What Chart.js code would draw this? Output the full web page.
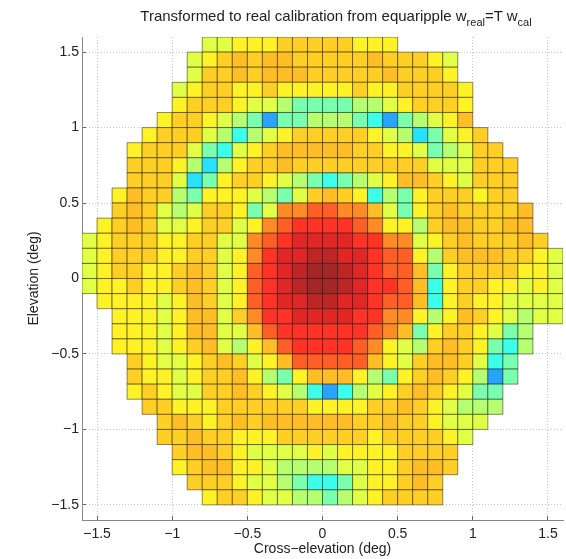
<!DOCTYPE html>
<html>
<head>
<meta charset="utf-8">
<script src="https://cdn.jsdelivr.net/npm/chart.js@4.4.0/dist/chart.umd.min.js"></script>
<style>
body{margin:0;background:#fff}
#wrap{position:relative;width:566px;height:559px}
#title{position:absolute;top:7px;left:336px;transform:translateX(-50%);white-space:nowrap;font:15px "Liberation Sans",Arial,sans-serif;line-height:17px;color:#222}
#title sub{font-size:11px;vertical-align:-5px;line-height:0}
</style>
</head>
<body>
<div id="wrap">
<canvas id="beam" width="566" height="559"></canvas>
<div id="title">Transformed to real calibration from equaripple w<sub>real</sub>=T w<sub>cal</sub></div>
</div>
<script>
// cell centres (deg)
const crossElev=[-1.55,-1.45,-1.35,-1.25,-1.15,-1.05,-0.95,-0.85,-0.75,-0.65,-0.55,-0.45,-0.35,-0.25,-0.15,-0.05,
  0.05,0.15,0.25,0.35,0.45,0.55,0.65,0.75,0.85,0.95,1.05,1.15,1.25,1.35,1.45,1.55]
const elevation=[1.55,1.45,1.35,1.25,1.15,1.05,0.95,0.85,0.75,0.65,0.55,0.45,0.35,0.25,0.15,0.05,
  -0.05,-0.15,-0.25,-0.35,-0.45,-0.55,-0.65,-0.75,-0.85,-0.95,-1.05,-1.15,-1.25,-1.35,-1.45]
// first filled column of each row
const rowStart=[8,7,7,6,6,5,4,3,3,3,2,2,1,0,0,0,0,1,2,2,2,3,3,3,4,5,5,6,6,7,8]
// colour level per cell (0..100 on the jet scale), row by row from the top
const level=[
[59,59,64,64,64,68,68,68,68,68,64,64,64],
[59,64,68,70,68,70,70,68,68,68,68,68,70,68,68,68,64,59],
[59,68,68,70,68,70,70,70,68,68,68,68,68,70,68,68,68,64],
[59,64,68,68,64,64,68,64,64,64,64,64,68,64,64,68,68,68,68,64],
[64,68,68,68,64,59,59,54,47,47,47,47,54,54,59,64,68,68,68,64],
[64,68,68,64,59,54,47,27,47,47,54,54,54,47,40,27,47,54,59,64,70],
[64,68,68,68,59,54,40,54,59,64,68,68,68,68,68,64,59,54,34,47,59,64,68],
[64,68,68,68,59,47,40,59,64,68,70,70,70,70,70,68,68,64,64,59,47,54,59,68,68],
[68,68,68,64,54,34,54,64,68,68,70,68,68,68,68,68,68,68,68,68,59,59,59,68,68,68],
[68,68,68,59,34,47,64,68,68,64,59,54,47,40,47,54,59,64,70,70,68,64,59,68,68,68],
[64,70,68,68,54,47,64,64,64,59,54,47,59,68,70,68,64,40,54,47,64,68,68,68,64,68,68],
[68,70,68,59,54,59,68,68,64,47,59,76,76,81,81,76,76,70,59,47,64,68,70,68,68,68,68,70],
[64,68,70,68,59,59,64,68,68,59,64,76,81,86,86,86,86,81,76,64,64,54,68,70,70,68,68,70,70],
[59,64,68,68,68,64,64,68,68,59,59,76,81,86,91,91,91,91,86,86,76,76,59,64,68,70,68,68,68,70,68],
[59,64,68,68,68,64,64,68,68,59,64,76,86,91,91,95,95,91,91,86,81,81,64,54,68,70,70,70,68,68,64,59],
[59,64,68,68,64,64,68,70,68,59,64,81,86,91,95,98,98,95,91,86,81,81,70,47,64,68,68,68,68,64,64,59],
[59,64,64,68,64,64,68,70,68,59,64,81,86,91,95,98,98,95,91,86,86,81,70,40,64,68,68,64,64,59,64,59],
[64,64,64,64,59,64,70,68,59,64,81,86,91,91,95,95,91,91,86,81,81,70,40,64,68,64,64,59,59,59,59],
[64,64,64,59,64,70,70,59,68,76,86,86,91,91,91,91,86,86,76,76,64,54,64,70,68,64,59,54,59,59],
[64,64,64,59,64,70,70,59,59,70,81,86,86,86,86,86,86,81,76,70,47,64,68,68,64,59,47,54],
[64,64,64,59,64,68,70,59,54,64,70,81,86,86,86,86,81,76,64,59,54,68,70,68,64,47,40,54],
[68,64,59,59,64,68,70,68,59,64,70,81,81,81,81,81,70,64,59,68,70,70,68,59,40,47],
[68,64,64,59,64,68,68,70,64,54,47,64,70,70,70,64,54,47,64,68,70,68,64,54,27,47],
[64,68,64,59,59,68,68,70,68,64,59,54,40,27,40,54,59,64,68,70,68,64,59,47,47],
[68,68,64,64,64,68,68,68,68,68,68,64,64,64,64,68,68,70,68,64,59,54,54,54],
[68,70,68,64,68,70,68,70,70,70,70,70,70,68,68,70,68,68,64,59,59,59],
[68,68,70,68,68,64,64,64,68,68,68,68,68,68,64,68,68,68,68,64,59],
[68,70,70,68,64,59,59,59,59,64,59,64,64,64,64,68,68,68,68],
[64,68,70,70,64,64,59,54,54,54,54,59,59,64,64,68,70,70,68],
[68,68,68,64,59,59,54,47,40,40,47,59,64,64,68,70,68],
[64,68,68,64,59,59,54,54,47,54,59,64,68,68,68,68]
]
const xTicks=[-1.5,-1,-0.5,0,0.5,1,1.5]
const yTicks=[-1.5,-1,-0.5,0,0.5,1,1.5]

const fontFamily='"Liberation Sans", Arial, Helvetica, sans-serif'
Chart.defaults.font.family=fontFamily

function jet(t){
  const c=x=>Math.max(0,Math.min(1,x))
  const r=c(1.5-Math.abs(4*t-3)),g=c(1.5-Math.abs(4*t-2)),b=c(1.5-Math.abs(4*t-1))
  const f=u=>Math.round(255*(u*0.85+0.15))
  return `rgb(${f(r)},${f(g)},${f(b)})`
}

let cells=[],colors=[]
for(let r=0;r<level.length;r++){
  for(let i=0;i<level[r].length;i++){
    cells.push({x:crossElev[rowStart[r]+i],y:elevation[r]})
    colors.push(jet(level[r][i]/100))
  }
}

// minus sign like the original axis labels
const fmt=v=>v<0?'\u2212'+String(-v):String(v)

function cellRadius(ctx){
  const s=ctx.chart.scales.x
  if(!s) return 10
  return Math.abs(s.getPixelForValue(0.1)-s.getPixelForValue(0))/Math.SQRT2
}

new Chart(document.getElementById('beam'),{
  type:'scatter',
  data:{datasets:[{
    data:cells,
    pointStyle:'rect',
    pointRadius:cellRadius,
    pointBackgroundColor:colors,
    pointBorderColor:'rgba(0,0,0,0.45)',
    pointBorderWidth:1
  }]},
  options:{
    responsive:false,
    animation:false,
    devicePixelRatio:1,
    events:[],
    layout:{padding:{top:37,right:3,left:0,bottom:0}},
    plugins:{legend:{display:false},tooltip:{enabled:false}},
    scales:{
      x:{
        type:'linear',min:-1.6,max:1.6,
        afterBuildTicks:s=>{s.ticks=xTicks.map(v=>({value:v}))},
        afterFit:s=>{s.height=39;s.paddingLeft=0;s.paddingRight=0},
        ticks:{callback:fmt,autoSkip:false,maxRotation:0,padding:10,color:'#222',font:{size:14}},
        grid:{color:'#c4c4c4',tickLength:-4,tickColor:'#666'},
        border:{color:'#888',dash:[1,2]},
        title:{display:true,text:'Cross\u2212elevation (deg)',color:'#222',font:{size:14},padding:{top:0,bottom:1}}
      },
      y:{
        type:'linear',min:-1.6,max:1.6,
        afterBuildTicks:s=>{s.ticks=yTicks.map(v=>({value:v}))},
        afterFit:s=>{s.width=82;s.paddingTop=0;s.paddingBottom=0},
        ticks:{callback:fmt,autoSkip:false,padding:7,color:'#222',font:{size:14}},
        grid:{color:'#c4c4c4',tickLength:-4,tickColor:'#666'},
        border:{color:'#888',dash:[1,2]},
        title:{display:true,text:'Elevation (deg)',color:'#222',font:{size:14},padding:{top:26,bottom:0}}
      }
    }
  }
})
</script>
</body>
</html>
